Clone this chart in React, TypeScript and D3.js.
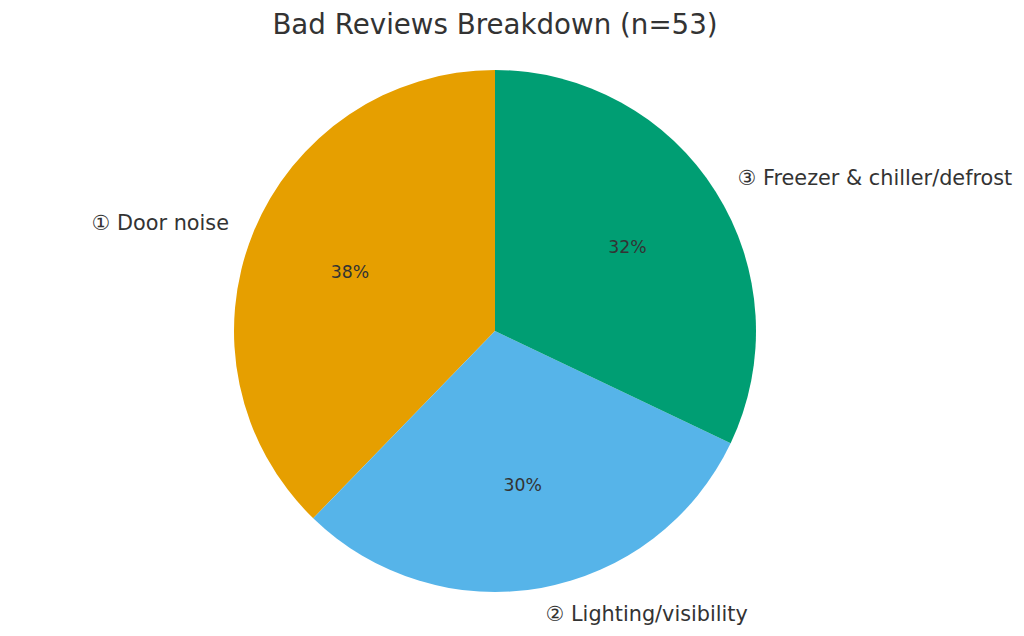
import React from "react";
import * as d3 from "d3";

const categories = ["① Door noise", "② Lighting/visibility", "③ Freezer & chiller/defrost"];
const counts = [20, 16, 17];
const colors = ["#E69F00", "#56B4E9", "#009E73"];
const title = "Bad Reviews Breakdown (n=53)";

const W = 1024;
const H = 636;
const cx = 495;
const cy = 331;
const R = 261;

export default function App() {
  const total = d3.sum(counts);
  const pie = d3
    .pie<number>()
    .sort(null)
    .startAngle(0)
    .endAngle(-2 * Math.PI)
    .value((d) => d);
  const arcs = pie(counts);
  const arcGen = d3.arc<d3.PieArcDatum<number>>().innerRadius(0).outerRadius(R);
  const textColor = "#333333";
  const font = "'DejaVu Sans', sans-serif";

  return (
    <svg
      width={W}
      height={H}
      style={{ position: "absolute", left: 0, top: 0, background: "#fff" }}
    >
      <text
        x={cx}
        y={24}
        textAnchor="middle"
        dominantBaseline="central"
        fontFamily={font}
        fontSize={27.7}
        fill={textColor}
      >
        {title}
      </text>
      <g transform={`translate(${cx},${cy})`}>
        {arcs.map((a, i) => (
          <path key={i} d={arcGen(a) || ""} fill={colors[i]} />
        ))}
        {arcs.map((a, i) => {
          const mid = (a.startAngle + a.endAngle) / 2;
          const sx = Math.sin(mid);
          const sy = -Math.cos(mid);
          const lx = sx * R * 1.1;
          const ly = sy * R * 1.1;
          const px = sx * R * 0.6;
          const py = sy * R * 0.6;
          const anchor = sx < 0 ? "end" : "start";
          return (
            <g key={"t" + i}>
              <text
                x={lx}
                y={ly}
                textAnchor={anchor}
                dominantBaseline="central"
                fontFamily={font}
                fontSize={20.8}
                fill={textColor}
              >
                {categories[i]}
              </text>
              <text
                x={px}
                y={py}
                textAnchor="middle"
                dominantBaseline="central"
                fontFamily={font}
                fontSize={17.3}
                fill={textColor}
              >
                {`${Math.round((counts[i] / total) * 100)}%`}
              </text>
            </g>
          );
        })}
      </g>
    </svg>
  );
}
